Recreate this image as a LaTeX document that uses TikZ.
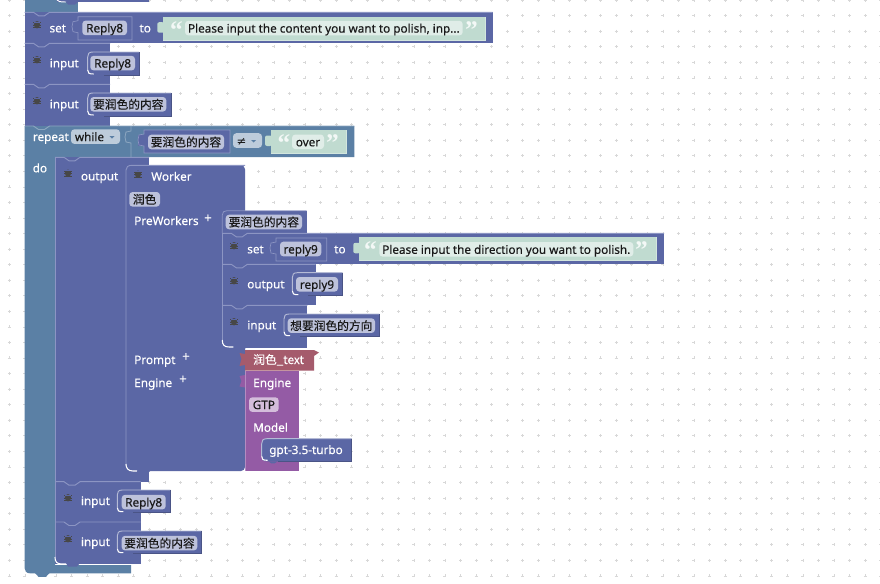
\documentclass[tikz,border=0pt]{standalone}
\usepackage{fontspec}
\setmainfont{Noto Sans}[FakeBold=0.25]
\newfontfamily\cjk{Noto Sans CJK SC}[FakeBold=0.2]
\newfontfamily\symfont{DejaVu Sans}
\newfontfamily\quotefont{Liberation Serif Bold}
\definecolor{blockP}{HTML}{5B67A5}
\definecolor{lineP}{HTML}{8C95C3}
\definecolor{darkP}{HTML}{4A5486}
\definecolor{blockT}{HTML}{5B80A5}
\definecolor{lineT}{HTML}{8CA6C0}
\definecolor{blockS}{HTML}{C0DBD0}
\definecolor{fieldS}{HTML}{E0EDE8}
\definecolor{fieldP}{HTML}{BDC2DB}
\definecolor{fieldT}{HTML}{BDCCDB}
\definecolor{fieldV}{HTML}{D4BDDB}
\definecolor{blockR}{HTML}{A55B6C}
\definecolor{blockV}{HTML}{945BA5}
\definecolor{griddot}{HTML}{D8D8D8}
\tikzset{
  x=0.75pt,y=-0.75pt,
  whitelab/.style={anchor=base west,inner sep=0pt,text=white,font=\fontsize{8.8pt}{10pt}\selectfont},
  darklab/.style={anchor=base,inner sep=0pt,text=black!90,font=\fontsize{8.8pt}{10pt}\selectfont},
  quotemark/.style={anchor=center,inner sep=0pt,text=white!80!blockS,font=\fontsize{19pt}{19pt}\quotefont},
  pluslab/.style={anchor=center,inner sep=0pt,text=white,font=\fontsize{10pt}{10pt}\selectfont},
}
% statement block
\newcommand\stmt[6]{%
  \fill[#5] (#1,#2) rectangle (#3,#4);
  \draw[#6,line width=.7pt] (#1,#2) -- ({#1+9},#2) -- ({#1+14},{#2+3.5}) -- ({#1+20},{#2+3.5}) -- ({#1+25},#2) -- (#3,#2);
}
% end of a stack: white corner and tab
\newcommand\stackend[3]{%
  \fill[blockP] ({#1+11},{#2-1}) -- ({#1+13},{#2+2.5}) -- ({#1+22},{#2+2.5}) -- ({#1+25},{#2-1}) -- cycle;
  \draw[white,line width=.8pt] (#1,{#2-7}) .. controls (#1,{#2-2}) and ({#1+2},#2) .. ({#1+7},#2) -- ({#1+11},#2);
}
% value block with round left side
\newcommand\valblk[5]{%
  \fill[#5] ({#1+5},#2) -- (#3,#2) -- (#3,#4) -- ({#1+5},#4) .. controls ({#1+1},#4) and (#1,{#4-2}) .. (#1,{#4-5}) -- (#1,{#2+5}) .. controls (#1,{#2+2}) and ({#1+1},#2) .. ({#1+5},#2) -- cycle;
  \fill[#5] ({#1+7},#4) -- ({#1+9.5},{#4+2}) -- ({#1+13},{#4+2}) -- ({#1+16},#4) -- cycle;
  \draw[white!55!#5,line width=.7pt] (#1,{#4-5}) -- (#1,{#2+5}) .. controls (#1,{#2+2}) and ({#1+1},#2) .. ({#1+5},#2) -- (#3,#2);
  \draw[white,line width=.8pt] (#1,{#4-5}) .. controls (#1,{#4-2}) and ({#1+1},{#4-1}) .. ({#1+6},{#4-1});
  \draw[darkP,line width=.4pt] (#3,#2) -- (#3,#4) -- ({#1+16},#4);
}
% rectangular value block with puzzle tab
\newcommand\socket[6]{%
  \fill[#5] ({#1-6},{#2+5}) rectangle (#1,{#2+16});
  \fill[#5] (#1,#2) rectangle (#3,#4);
  \draw[#6,line width=.5pt] (#3,#2) -- (#1,#2) -- (#1,{#2+4}) -- ({#1-5},{#2+5}) -- ({#1-6},{#2+10}) -- ({#1-5},{#2+15}) -- (#1,{#2+16}) -- (#1,#4) -- (#3,#4) -- cycle;
}
\newcommand\strblk[4]{%
  \fill[blockS,rounded corners=1.5pt] ({#1-6},{#2+5.5}) rectangle ({#1+1},{#2+16});
  \fill[blockS] (#1,#2) rectangle (#3,#4);
  \draw[white!30!blockS,line width=.4pt] (#1,#4) -- (#3,#4) -- (#3,#2);
}
% field: name, box, fill, text
\newcommand\fieldbox[7][darklab]{%
  \fill[#6,rounded corners=2.5pt] (#3,#4) rectangle (#5,{#4+14.6});
  \node[#1] (#2) at ({(#3+#5)/2},{#4+11.8}) {#7};
}
\newcommand\lab[4]{\node[whitelab] (#1) at (#2,#3) {#4};}
\newcommand\bugicon[2]{%
  \fill[black!72] (#1,{#2+.2}) ellipse [x radius=3.1,y radius=3.7];
  \draw[black!72,line width=.4pt] ({#1-4},{#2-1.8}) -- ({#1+4},{#2-1.8}) ({#1-4},{#2+.6}) -- ({#1+4},{#2+.6}) ({#1-4},{#2+2.8}) -- ({#1+4},{#2+2.8});
  \draw[blockP,line width=.3pt] ({#1-3.2},{#2-2.6}) -- ({#1+3.2},{#2-2.6});
}
\newcommand\ddtri[3]{\fill[#3] ({#1-2.5},{#2-1}) -- ({#1+2.5},{#2-1}) -- (#1,{#2+1.5}) -- cycle;}
\begin{document}
\begin{tikzpicture}
\useasboundingbox (0,0) rectangle (880,583);
\fill[white] (0,0) rectangle (880,583);
% grid
\foreach \i in {0,...,56}{\foreach \j in {0,...,37}{
  \pgfmathsetmacro{\gx}{9.3+15.56*\i}\pgfmathsetmacro{\gy}{0.1+15.56*\j}
  \draw[griddot,line width=.45pt] ({\gx-1.5},\gy) -- ({\gx+1.5},\gy) (\gx,{\gy-1.5}) -- (\gx,{\gy+1.5});
}}
% top stub
\fill[blockT] (24.5,0) rectangle (78.3,12.3);
\fill[blockP] (57,0) rectangle (149,2);
\draw[white,line width=.7pt] (57,0) .. controls (58,1.5) and (60,2) .. (66,2);
\fill[blockP] (66,2) -- (68,4.5) -- (75,4.5) -- (78,2) -- cycle;
% set Reply8
\stmt{24.5}{12.3}{492.7}{43.3}{blockP}{lineP}
\bugicon{37}{24.5}
\lab{setA}{49.3}{32.3}{set}
\socket{78}{16.7}{132}{40}{blockP}{lineP}
\fieldbox{getA}{82.3}{20.6}{127}{fieldP}{Reply8}
\lab{toA}{139.3}{32.3}{to}
\strblk{163.3}{16.7}{485}{40}
\node[quotemark] (qA) at (176.5,30) {“};
\fieldbox{strA}{185}{20.8}{462.7}{fieldS}{Please input the content you want to polish, inp...}
\node[quotemark] (qAb) at (471.5,30) {”};
% input Reply8
\stmt{24.5}{43.3}{110}{84.3}{blockP}{lineP}
\bugicon{37}{59.5}
\lab{inA}{49.5}{67.3}{input}
\valblk{87.7}{52}{139}{75}{blockP}
\fieldbox{valA}{90.3}{55.8}{135}{fieldP}{Reply8}
% input content
\stmt{24.5}{84.3}{110}{126}{blockP}{lineP}
\bugicon{37}{100.5}
\lab{inB}{49.5}{108.3}{input}
\valblk{87.7}{93}{171}{116}{blockP}
\fieldbox{valB}{90.3}{97}{166.3}{fieldP}{\cjk 要润色的内容}
% repeat
\fill[blockT] (24.5,126) -- (354.3,126) -- (354.3,157) -- (55,157) -- (55,565) -- (131,565) -- (131,573.3) -- (30,573.3) .. controls (26.5,573.3) and (24.5,571) .. (24.5,568) -- cycle;
\fill[blockT] (35,573) -- (38.5,576.8) -- (46,576.8) -- (49.5,573) -- cycle;
\draw[lineT,line width=.7pt] (24.5,126) -- (33.5,126) -- (38.5,129.5) -- (44.5,129.5) -- (49.5,126) -- (354.3,126);
\draw[lineT,line width=.6pt] (131,126) -- (131,131) -- (126,132) -- (125,137) -- (126,142) -- (131,143) -- (131,157);
\lab{repeatL}{32.7}{141}{repeat}
\fieldbox{dd}{71}{129.3}{120}{fieldT}{\hspace*{-9pt}while}
\ddtri{112}{137}{blockT}
\lab{doL}{32.5}{172.3}{do}
\socket{144}{130}{230}{153}{blockP}{lineP}
\fieldbox{getB}{148}{134.7}{224}{fieldP}{\cjk 要润色的内容}
\fieldbox{neq}{233}{133.2}{262}{fieldT}{\hspace*{-9pt}\symfont ≠}
\ddtri{253.7}{141}{blockT}
\strblk{271}{130}{346}{153}
\node[quotemark] (qB) at (284,143) {“};
\fieldbox{strB}{292}{134.5}{324}{fieldS}{over}
\node[quotemark] (qBb) at (332.5,143) {”};
% output Worker
\stmt{55}{157.3}{149}{481.7}{blockP}{lineP}
\bugicon{68}{173}
\lab{outA}{80.7}{180.3}{output}
% worker
\fill[blockP,rounded corners=3pt] (126,165.3) -- (245,165.3) -- (245,471) -- (126,471) -- cycle;
\draw[lineP,line width=.7pt] (126,466) -- (126,170) .. controls (126,167) and (128,165.3) .. (132,165.3) -- (245,165.3);
\bugicon{138}{174}
\lab{workerL}{151}{180.7}{Worker}
\fieldbox{fRun}{129.3}{192}{160}{fieldP}{\cjk 润色}
\lab{preL}{134}{225}{PreWorkers}
\node[pluslab] (plusA) at (208,218.7) {+};
\draw[white,line width=.8pt] (126,464) .. controls (126,468) and (128,471) .. (133,471) -- (137,471);
\fill[blockP] (137,471) -- (140,474.5) -- (147,474.5) -- (150,471) -- cycle;
% pre workers
\fill[blockP] (222.3,210.7) rectangle (306.7,233.3);
\draw[lineP,line width=.6pt] (222.3,233.3) -- (222.3,215) .. controls (222.3,212) and (224,210.7) .. (227,210.7) -- (306.7,210.7);
\fieldbox{getC}{225.7}{214.7}{302}{fieldP}{\cjk 要润色的内容}
\stmt{222.3}{233.3}{664}{264.3}{blockP}{lineP}
\bugicon{234}{245.5}
\lab{setB}{247}{253.3}{set}
\socket{276}{238}{326.7}{261}{blockP}{lineP}
\fieldbox{getD}{280}{241.7}{321.3}{fieldP}{reply9}
\lab{toB}{334}{253.3}{to}
\strblk{359.3}{237.3}{656}{260.7}
\node[quotemark] (qC) at (370.5,250.5) {“};
\fieldbox{strC}{379.3}{242}{633.3}{fieldS}{Please input the direction you want to polish.}
\node[quotemark] (qCb) at (641.5,250.5) {”};
\stmt{222.3}{264.3}{315.7}{305.3}{blockP}{lineP}
\bugicon{234}{280.5}
\lab{outB}{247}{288.3}{output}
\valblk{292.3}{272.7}{342.3}{295.7}{blockP}
\fieldbox{valC}{296}{277}{338}{fieldP}{reply9}
\stmt{222.3}{305.3}{307.3}{348}{blockP}{lineP}
\bugicon{234}{321.5}
\lab{inC}{247}{329.3}{input}
\valblk{284}{314}{379.3}{336.7}{blockP}
\fieldbox{valD}{287.7}{318.3}{375}{fieldP}{\cjk 想要润色的方向}
\draw[lineP,line width=.6pt] (222.3,233.3) -- (222.3,341);
\stackend{222.3}{347}{}
% prompt / engine
\lab{promptL}{134}{364}{Prompt}
\node[pluslab] (plusB) at (186,357) {+};
\lab{engineL}{134}{387}{Engine}
\node[pluslab] (plusC) at (183,379.5) {+};
% red block
\fill[blockR] (245,350) -- (314,350) -- (319,352.5) -- (314,356) -- (314,370.7) -- (245,370.7) -- (245,365) -- (239.5,366) -- (241.5,359) -- (239.5,353) -- (245,354) -- cycle;
\node[whitelab] (redL) at (253,364) {\cjk 润色\_text};
% engine block
\fill[blockV] (245,370.7) rectangle (298.7,471);
\fill[blockV] (245,375) -- (239.5,376) -- (241.5,381) -- (239.5,386.5) -- (245,387.5) -- cycle;
\draw[white!30!blockV,line width=.5pt] (245,370.7) -- (245,471);
\lab{engineB}{253}{387}{Engine}
\fieldbox{gtp}{249}{397.3}{278.7}{fieldV}{GTP}
\lab{modelL}{253}{431.7}{Model}
\valblk{261.7}{438.7}{351.7}{461.3}{blockP}
\lab{gptL}{269}{454}{gpt-3.5-turbo}
% lower statements
\stmt{55}{481.7}{140.7}{522}{blockP}{lineP}
\bugicon{68}{497.5}
\lab{inD}{80.7}{505}{input}
\valblk{117.3}{490}{170.3}{512.7}{blockP}
\fieldbox{valE}{121.7}{494.8}{165.7}{fieldP}{Reply8}
\stmt{55}{522}{140.7}{564}{blockP}{lineP}
\bugicon{68}{538.5}
\lab{inE}{80.7}{546}{input}
\valblk{117.3}{531}{201.7}{553.7}{blockP}
\fieldbox{valF}{121.7}{535.8}{197.3}{fieldP}{\cjk 要润色的内容}
\draw[lineP,line width=.5pt] (55,157.3) -- (55,557);
\stackend{55}{564}{}
\end{tikzpicture}
\end{document}
